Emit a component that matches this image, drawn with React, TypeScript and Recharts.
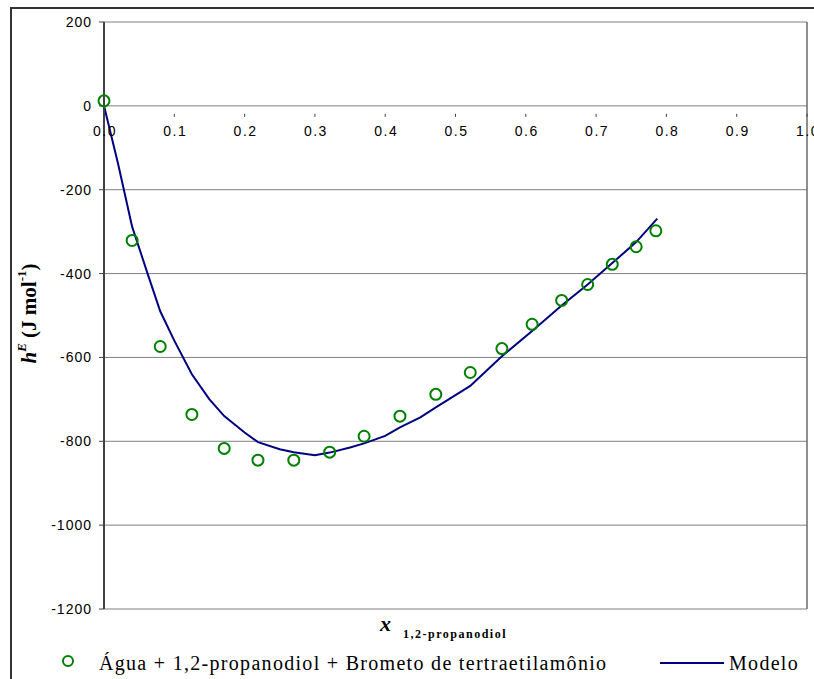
import {
  ComposedChart,
  Scatter,
  Line,
  XAxis,
  YAxis,
  CartesianGrid,
  ReferenceLine,
} from 'recharts'

// experimental points (x 1,2-propanodiol, hE / J mol-1)
const xExp = [0, 0.04, 0.08, 0.125, 0.171, 0.219, 0.27, 0.321, 0.37, 0.421, 0.472, 0.521, 0.566, 0.609, 0.651, 0.688, 0.723, 0.757, 0.785]
const hExp = [12, -321, -574, -736, -817, -845, -845, -826, -788, -740, -688, -636, -579, -521, -464, -426, -378, -336, -298]

// model curve
const xModel = [0, 0.02, 0.04, 0.062, 0.08, 0.1, 0.125, 0.15, 0.171, 0.2, 0.219, 0.25, 0.27, 0.3, 0.321, 0.35, 0.37, 0.4, 0.421, 0.45, 0.472, 0.5, 0.521, 0.566, 0.609, 0.651, 0.688, 0.723, 0.757, 0.787]
const hModel = [0, -138, -288, -400, -490, -560, -640, -700, -740, -779, -802, -819, -826, -833, -827, -815, -805, -787, -767, -743, -719, -690, -668, -597, -537, -476, -426, -375, -325, -269]

const xTicks = [0, 0.1, 0.2, 0.3, 0.4, 0.5, 0.6, 0.7, 0.8, 0.9, 1.0]
const yTicks = [-1200, -1000, -800, -600, -400, -200, 0, 200]

const expData = xExp.map((x, i) => ({ x, y: hExp[i] }))
const modelData = xModel.map((x, i) => ({ x, y: hModel[i] }))

const W = 814
const H = 679
const TOP = 22
const BOTTOM = 609
const Y_MIN = -1200
const Y_MAX = 200
// pixel offset from the bottom of the plot up to the y = 0 line
const zeroShift = ((0 - Y_MIN) / (Y_MAX - Y_MIN)) * (BOTTOM - TOP)

const sans = '"Liberation Sans", Arial, sans-serif'
const serif = '"Liberation Serif", "Times New Roman", serif'

function XTick(props: any) {
  const { x, y, payload } = props
  const y0 = y - zeroShift
  return (
    <g>
      <line x1={x} x2={x} y1={y0} y2={y0 + 3} stroke="#404040" />
      <text x={x + 1} y={y0 + 22} textAnchor="middle" fontSize={14} letterSpacing={1.5} fontFamily={sans} fill="#000">
        {payload.value.toFixed(1)}
      </text>
    </g>
  )
}

function YTick(props: any) {
  const { x, y, payload } = props
  return (
    <text x={x + 1} y={y} dy={5} textAnchor="end" fontSize={14} letterSpacing={1} fontFamily={sans} fill="#000">
      {payload.value}
    </text>
  )
}

function Circle(props: any) {
  return <circle cx={props.cx} cy={props.cy} r={5.5} fill="none" stroke="#008000" strokeWidth={2} />
}

function YLabel(props: any) {
  const vb = props.viewBox
  const cx = vb.x + 29
  const cy = vb.y + vb.height / 2 - 2
  return (
    <text
      x={cx}
      y={cy}
      transform={`rotate(-90 ${cx} ${cy})`}
      textAnchor="middle"
      dominantBaseline="central"
      fontFamily={serif}
      fontWeight="bold"
      fontSize={21}
      fill="#000"
    >
      <tspan fontStyle="italic">h</tspan>
      <tspan fontStyle="italic" fontSize={13} dy={-8}>E</tspan>
      <tspan dy={8}>{'  (J mol'}</tspan>
      <tspan fontSize={13} dy={-8}>-1</tspan>
      <tspan dy={8}>)</tspan>
    </text>
  )
}

function XLabel() {
  return (
    <text x={380} y={631} fontFamily={serif} fontWeight="bold" fill="#000">
      <tspan fontStyle="italic" fontSize={22}>x</tspan>
      <tspan fontSize={12} letterSpacing={1.5} dx={12} dy={7}>1,2-propanodiol</tspan>
    </text>
  )
}

export default function App() {
  return (
    <div style={{ position: 'absolute', left: 0, top: 0, width: W, height: H, overflow: 'hidden', background: '#fff' }}>
      <div
        style={{
          position: 'absolute',
          left: 10,
          top: 7,
          width: 1000,
          height: 1000,
          borderLeft: '2px solid #333',
          borderTop: '2px solid #333',
        }}
      />
      <div style={{ position: 'absolute', left: 0, top: 0 }}>
        <ComposedChart width={W} height={H} margin={{ top: TOP, right: 7, left: 0, bottom: H - BOTTOM - 30 }}>
          <CartesianGrid vertical={false} stroke="#808080" />
          <XAxis
            dataKey="x"
            type="number"
            domain={[0, 1]}
            ticks={xTicks}
            axisLine={false}
            tickLine={false}
            tick={<XTick />}
            height={30}
            interval={0}
            label={<XLabel />}
          />
          <YAxis
            type="number"
            domain={[Y_MIN, Y_MAX]}
            ticks={yTicks}
            width={104}
            tickSize={5}
            tickMargin={8}
            interval={0}
            axisLine={{ stroke: '#404040', strokeWidth: 2 }}
            tickLine={{ stroke: '#404040' }}
            tick={<YTick />}
            label={{ content: YLabel }}
          />
          <ReferenceLine x={1} stroke="#6a6a6a" strokeWidth={1.5} />
          <Line
            data={modelData}
            dataKey="y"
            type="linear"
            stroke="#000080"
            strokeWidth={2}
            dot={false}
            isAnimationActive={false}
          />
          <Scatter data={expData} dataKey="y" shape={<Circle />} isAnimationActive={false} />
        </ComposedChart>
      </div>
      <div style={{ position: 'absolute', left: 0, top: 648, width: W, height: 31, fontFamily: serif, fontSize: 20, letterSpacing: 1.3, color: '#000' }}>
        <svg style={{ position: 'absolute', left: 60, top: 5 }} width={16} height={16}>
          <circle cx={8} cy={8} r={5} fill="none" stroke="#008000" strokeWidth={2} />
        </svg>
        <span style={{ position: 'absolute', left: 99, top: 4, whiteSpace: 'nowrap' }}>
          Água + 1,2-propanodiol + Brometo de tertraetilamônio
        </span>
        <svg style={{ position: 'absolute', left: 660, top: 13 }} width={66} height={4}>
          <line x1={0} x2={64} y1={2} y2={2} stroke="#000080" strokeWidth={2} />
        </svg>
        <span style={{ position: 'absolute', left: 729, top: 4, whiteSpace: 'nowrap' }}>Modelo</span>
      </div>
    </div>
  )
}
